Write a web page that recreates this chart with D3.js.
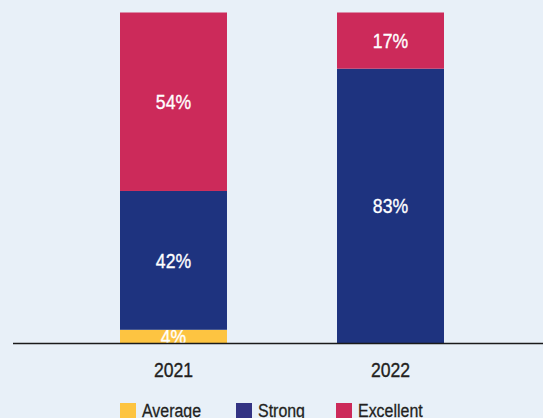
<!DOCTYPE html>
<meta charset="utf-8">
<html>
  <head>
    <style>
      body { margin: 0; background: #e8f0f8; }
      text { font-family: "Liberation Sans", Arial, sans-serif; }
      text.pct { fill: #fff; font-size: 21px; stroke: #fff; stroke-width: 0.35px; }
      text.year { fill: #231f20; font-size: 21px; stroke: #231f20; stroke-width: 0.35px; }
      text.leg { fill: #231f20; font-size: 19px; stroke: #231f20; stroke-width: 0.3px; }
    </style>
    <script src="https://cdn.jsdelivr.net/npm/d3@7"></script>
  </head>
  <body>
    <div id="chart"></div>
    <script>
    var years = ["2021", "2022"];
    var ratings = ["Average", "Strong", "Excellent"];
    var average = [4, 0];
    var strong = [42, 83];
    var excellent = [54, 17];
    var colors = ["#fdc441", "#1e337f", "#cc2a5a"];
    var legendColors = ["#fdc441", "#333383", "#cc2a5a"];

    var width = 543, height = 418;
    var squeeze = 0.84; // condensed look

    var svg = d3.select("#chart").append("svg")
      .attr("width", width)
      .attr("height", height)
      .style("display", "block");

    svg.append("rect").attr("width", width).attr("height", height).attr("fill", "#e8f0f8");

    var x = d3.scaleBand()
      .domain(years)
      .range([11.5, 552.5])
      .paddingInner(0.507)
      .paddingOuter(0.5);

    var y = d3.scaleLinear()
      .domain([0, 100])
      .range([343, 12.5]);

    var table = years.map(function(yr, i) {
      return { year: yr, Average: average[i], Strong: strong[i], Excellent: excellent[i] };
    });
    var stacked = d3.stack().keys(ratings)(table);

    var layers = svg.selectAll(".layer")
      .data(stacked)
      .enter()
      .append("g")
      .attr("fill", function(d, i) { return colors[i]; });

    layers.selectAll("rect")
      .data(function(d) { return d.filter(function(p) { return p[1] > p[0]; }); })
      .enter()
      .append("rect")
      .attr("x", function(d) { return x(d.data.year); })
      .attr("width", x.bandwidth())
      .attr("y", function(d) { return y(d[1]); })
      .attr("height", function(d) { return y(d[0]) - y(d[1]); });

    layers.selectAll("text")
      .data(function(d) { return d.filter(function(p) { return p[1] > p[0]; }); })
      .enter()
      .append("text")
      .attr("class", "pct")
      .attr("text-anchor", "middle")
      .attr("transform", function(d) {
        var cx = x(d.data.year) + x.bandwidth() / 2;
        var cy = (y(d[0]) + y(d[1])) / 2 + 7.5;
        return "translate(" + cx + "," + cy + ") scale(" + squeeze + ",1)";
      })
      .text(function(d) { return (d[1] - d[0]) + "%"; });

    // baseline
    svg.append("line")
      .attr("x1", 13).attr("x2", 543)
      .attr("y1", y(0) + 0.5).attr("y2", y(0) + 0.5)
      .attr("stroke", "#1a1a1a")
      .attr("stroke-width", 1.5);

    svg.selectAll(".year")
      .data(years)
      .enter()
      .append("text")
      .attr("class", "year")
      .attr("text-anchor", "middle")
      .attr("transform", function(d) {
        return "translate(" + (x(d) + x.bandwidth() / 2) + ",377) scale(" + squeeze + ",1)";
      })
      .text(function(d) { return d; });

    // legend
    var legX = [120, 236, 336];
    var legend = svg.selectAll(".legend")
      .data(ratings)
      .enter()
      .append("g")
      .attr("transform", function(d, i) { return "translate(" + legX[i] + ",403)"; });

    legend.append("rect")
      .attr("width", 16)
      .attr("height", 16)
      .attr("fill", function(d, i) { return legendColors[i]; });

    legend.append("text")
      .attr("class", "leg")
      .attr("transform", "translate(22,14) scale(" + squeeze + ",1)")
      .text(function(d) { return d; });
    </script>
  </body>
</html>
